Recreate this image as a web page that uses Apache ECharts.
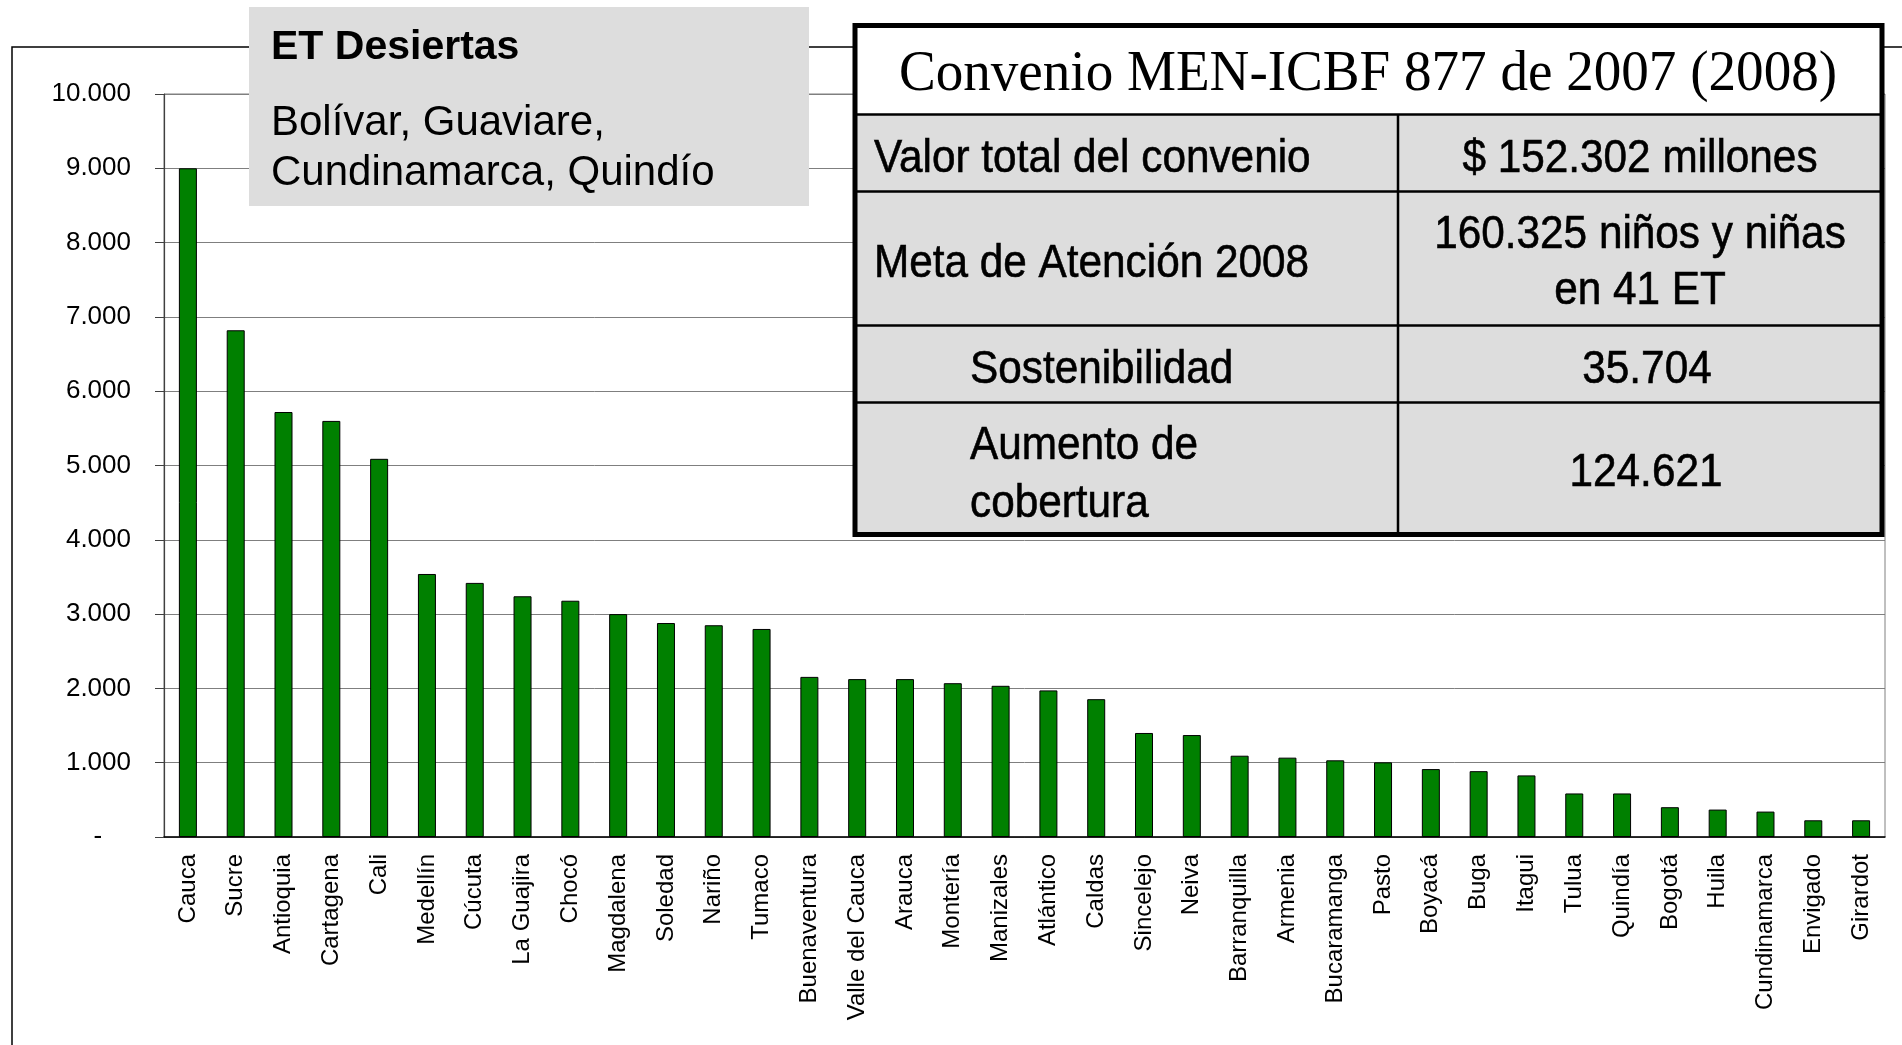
<!DOCTYPE html>
<html>
<head>
<meta charset="utf-8">
<title>Convenio MEN-ICBF 877 de 2007</title>
<script src="https://cdn.jsdelivr.net/npm/echarts@6/dist/echarts.min.js"></script>
<style>
  html, body { margin: 0; padding: 0; background: #fff; }
  #chart { width: 1902px; height: 1045px; }
</style>
</head>
<body>
<div id="chart"></div>
<script>
// entidades territoriales y niños atendidos
const categories = ['Cauca', 'Sucre', 'Antioquia', 'Cartagena', 'Cali', 'Medellín', 'Cúcuta', 'La Guajira',
  'Chocó', 'Magdalena', 'Soledad', 'Nariño', 'Tumaco', 'Buenaventura', 'Valle del Cauca', 'Arauca',
  'Montería', 'Manizales', 'Atlántico', 'Caldas', 'Sincelejo', 'Neiva', 'Barranquilla', 'Armenia',
  'Bucaramanga', 'Pasto', 'Boyacá', 'Buga', 'Itagui', 'Tulua', 'Quindía', 'Bogotá', 'Huila',
  'Cundinamarca', 'Envigado', 'Girardot']
const values = [9000, 6820, 5720, 5600, 5090, 3540, 3420, 3240, 3180, 3000, 2880, 2850, 2800, 2155, 2125,
  2125, 2070, 2035, 1973, 1855, 1400, 1372, 1094, 1068, 1032, 1005, 914, 886, 829, 586, 586, 401, 369,
  342, 225, 225]

// textos de los recuadros
const boxTitle = 'ET Desiertas'
const boxLines = ['Bolívar, Guaviare,', 'Cundinamarca, Quindío']
const tableTitle = 'Convenio MEN-ICBF 877 de 2007 (2008)'
const tableLabels = ['Valor total del convenio', 'Meta de Atención 2008', 'Sostenibilidad', 'Aumento de\ncobertura']
const tableValues = ['$ 152.302 millones', '160.325 niños y niñas\nen 41 ET', '35.704', '124.621']

const sans = "'Liberation Sans', Arial, sans-serif"
const serif = "'Liberation Serif', 'Times New Roman', serif"

function fmtMiles (v) {
  if (v === 0) return '-    '
  return String(v).replace(/\B(?=(\d{3})+(?!\d))/g, '.')
}

function txt (x, y, text, opts) {
  return Object.assign({
    type: 'text',
    x: x,
    y: y,
    z: 20,
    style: Object.assign({
      text: text,
      fill: '#000',
      fontFamily: sans,
      fontSize: 47,
      align: 'left',
      verticalAlign: 'middle'
    }, opts.style || {})
  }, opts.el || {})
}

const chart = echarts.init(document.getElementById('chart'))

// tabla del convenio
const tX = 855
const tY = 25.5
const tW = 1027
const tH = 509
const colX = 1398
const rowLines = [114.5, 191.5, 325.5, 402.5]
const labelX = [874, 874, 970, 970]
const labelY = [159, 264, 370, 475]
const valueX = [1640, 1640, 1647, 1646]
const valueY = [159, 263, 370, 473]
// trazo fino para engrosar el texto angosto de la tabla
const narrow = { scaleX: 0.9 }

const graphics = [
  // marco exterior del gráfico
  { type: 'rect', z: 5, shape: { x: 12, y: 47, width: 2000, height: 1100 }, style: { fill: 'none', stroke: '#000', lineWidth: 1.5 } },
  // recuadro ET Desiertas
  { type: 'rect', z: 10, shape: { x: 249, y: 7, width: 560, height: 199 }, style: { fill: '#dddddd' } },
  txt(271, 48, boxTitle, { style: { fontSize: 41, fontWeight: 'bold' } }),
  txt(271, 148, boxLines.join('\n'), { style: { fontSize: 42, lineHeight: 50 } }),
  // tabla
  { type: 'rect', z: 10, shape: { x: tX, y: tY, width: tW, height: 89 }, style: { fill: '#fff' } },
  { type: 'rect', z: 10, shape: { x: tX, y: rowLines[0], width: tW, height: tY + tH - rowLines[0] }, style: { fill: '#dddddd' } },
  { type: 'line', z: 11, shape: { x1: colX, y1: rowLines[0], x2: colX, y2: tY + tH }, style: { stroke: '#000', lineWidth: 2.5 } }
]
rowLines.forEach(function (y) {
  graphics.push({ type: 'line', z: 11, shape: { x1: tX, y1: y, x2: tX + tW, y2: y }, style: { stroke: '#000', lineWidth: 2.5 } })
})
graphics.push({ type: 'rect', z: 12, shape: { x: tX, y: tY, width: tW, height: tH }, style: { fill: 'none', stroke: '#000', lineWidth: 5 } })
graphics.push(txt(1368, 75, tableTitle, { el: { scaleX: 0.95 }, style: { fontFamily: serif, fontSize: 58, align: 'center' } }))
tableLabels.forEach(function (t, i) {
  graphics.push(txt(labelX[i], labelY[i], t, { el: narrow, style: { lineHeight: 58, stroke: '#000', lineWidth: 0.6 } }))
})
tableValues.forEach(function (t, i) {
  graphics.push(txt(valueX[i], valueY[i], t, { el: narrow, style: { align: 'center', lineHeight: 56, stroke: '#000', lineWidth: 0.6 } }))
})

chart.setOption({
  animation: false,
  backgroundColor: '#fff',
  grid: {
    left: 164,
    right: 17,
    top: 94,
    bottom: 208,
    show: true,
    borderColor: '#808080',
    borderWidth: 1
  },
  xAxis: {
    type: 'category',
    data: categories,
    axisLine: { lineStyle: { color: '#000', width: 1.5 } },
    axisTick: { length: 7, lineStyle: { color: '#000' } },
    axisLabel: {
      interval: 0,
      rotate: 90,
      margin: 17,
      color: '#000',
      fontFamily: sans,
      fontSize: 24
    }
  },
  yAxis: {
    type: 'value',
    min: 0,
    max: 10000,
    interval: 1000,
    axisLine: { show: true, lineStyle: { color: '#404040', width: 1.2 } },
    axisTick: { show: true, length: 9, lineStyle: { color: '#404040' } },
    splitLine: { lineStyle: { color: '#7f7f7f', width: 1 } },
    axisLabel: {
      margin: 33,
      color: '#000',
      fontFamily: sans,
      fontSize: 26,
      formatter: fmtMiles
    }
  },
  series: [
    {
      name: 'Niños',
      type: 'bar',
      data: values,
      barWidth: 18,
      itemStyle: {
        color: '#008000',
        borderColor: '#000',
        borderWidth: 1
      }
    }
  ],
  graphic: graphics
})
</script>
</body>
</html>
